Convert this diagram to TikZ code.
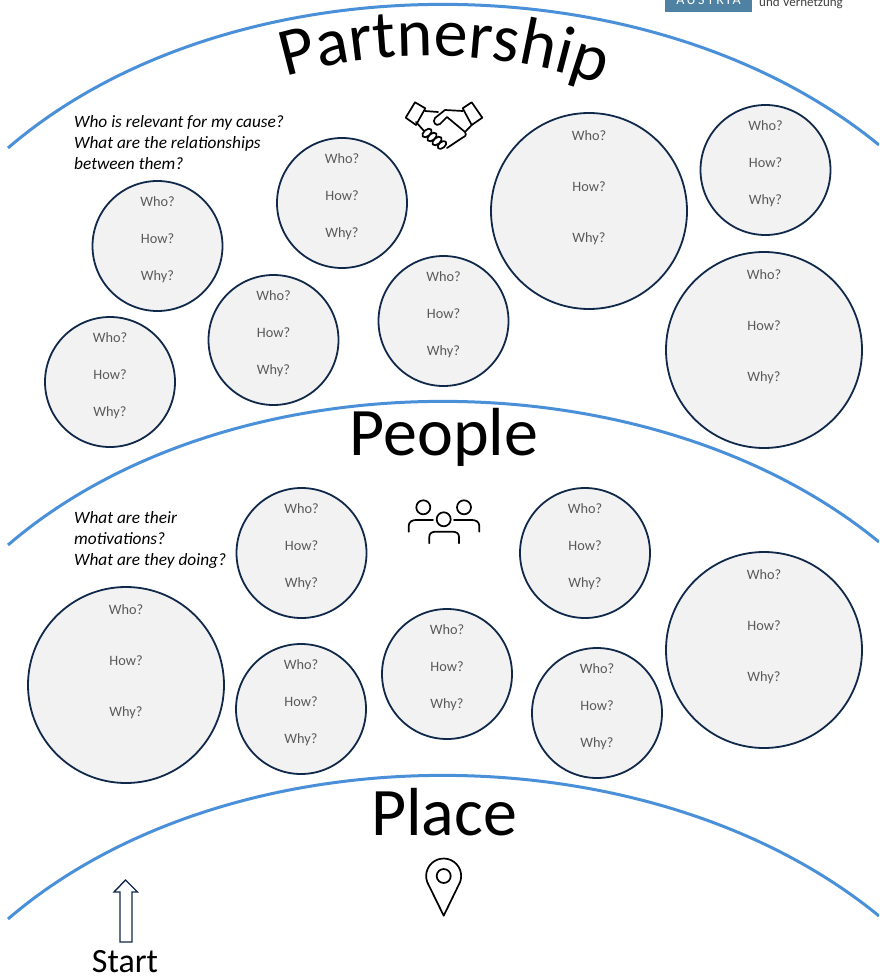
\documentclass[tikz,border=0pt]{standalone}
\usepackage{fontspec}
\setmainfont{Carlito}
\usetikzlibrary{decorations.text}

\definecolor{archblue}{HTML}{4A90D9}
\definecolor{ringnavy}{HTML}{10294A}
\definecolor{bubblegray}{HTML}{F2F2F2}
\definecolor{askgray}{HTML}{595959}
\definecolor{logoblue}{HTML}{4F81A3}

\tikzset{
  archline/.style={draw=archblue, line width=3pt},
  asks/.style={text=askgray, inner sep=0pt, align=center},
  bubble/.style={circle, draw=ringnavy, line width=1.8pt, fill=bubblegray, inner sep=0pt, minimum size=130pt, label={[asks, yshift=6pt, font=\fontsize{14.3}{37}\selectfont]center:{Who?\\How?\\Why?}}},
  bigbubble/.style={circle, draw=ringnavy, line width=1.8pt, fill=bubblegray, inner sep=0pt, minimum size=196pt, label={[asks, yshift=23pt, font=\fontsize{14.3}{51}\selectfont]center:{Who?\\How?\\Why?}}},
  question/.style={anchor=north west, inner sep=0pt, align=left, font=\fontsize{17.3}{21}\selectfont\itshape},
  title/.style={inner sep=0pt, font=\fontsize{68}{68}\selectfont},
  icon/.style={line width=1.7pt, line cap=round, line join=round},
}

\begin{document}
\begin{tikzpicture}[x=1pt,y=-1pt]

\clip (0,0) rectangle (879,976);

% Logo in the corner
\node [fill=logoblue, text=white, inner sep=0pt, minimum width=87pt, minimum height=24pt, font=\fontsize{14}{14}\selectfont\addfontfeature{LetterSpace=18}] (austria) at (708.5,0) {AUSTRIA};
\node [anchor=base west, inner sep=0pt, text=black!75, font=\fontsize{13}{13}\selectfont] (vernetzung) at (759,7) {und Vernetzung};

% Draw the three arches
\draw [archline] (8,148) .. controls (230,-43) and (650,-43) .. (879,145);
\draw [archline] (8,545) .. controls (230,354) and (650,354) .. (879,542);
\draw [archline] (8,919) .. controls (230,728) and (650,728) .. (879,916);

% Titles
\path [decorate, decoration={text along path, text align=center, text={|\fontsize{68}{68}\selectfont|Partnership}}] (268,82) .. controls (370,46) and (510,46) .. (618,92);
\node [title] (people) at (444,437) {People};
\node [title] (place) at (444,812) {Place};
\node [inner sep=0pt, font=\fontsize{34}{34}\selectfont] (start) at (125,962) {Start};

% Questions
\node [question] (askpartner) at (74,115) {Who is relevant for my cause?\\What are the relationships\\between them?};
\node [question] (askpeople) at (74,511) {What are their\\motivations?\\What are they doing?};

% Partnership circles
\node [bubble] (partner1) at (157.5,246) {};
\node [bubble] (partner2) at (342,203) {};
\node [bigbubble] (partner3) at (589,211) {};
\node [bubble] (partner4) at (765.5,170) {};
\node [bubble] (partner5) at (273.5,340) {};
\node [bubble] (partner6) at (443.5,321) {};
\node [bubble] (partner7) at (110,382) {};
\node [bigbubble] (partner8) at (764,350) {};

% People circles
\node [bubble] (crowd1) at (301.5,553) {};
\node [bubble] (crowd2) at (585,553) {};
\node [bigbubble] (crowd3) at (126,685) {};
\node [bubble] (crowd4) at (301,709) {};
\node [bubble] (crowd5) at (447,674) {};
\node [bubble] (crowd6) at (597,713) {};
\node [bigbubble] (crowd7) at (764,650) {};

% Handshake icon
\draw [icon] (415,102.3) -- (425.3,108.3) -- (416,125) -- (405.7,117.7) -- cycle;
\draw [icon] (471.7,102.3) -- (482.3,117.7) -- (471.7,125) -- (462.7,108.3) -- cycle;
\draw [icon] (425,111) -- (438,112);
\draw [icon] (462.7,111) -- (445,110) -- (435,118) .. controls (432,122) and (436,127) .. (440,124) -- (447,117) -- (465,132) .. controls (467,136) and (465,136) .. (462,138) -- (447,148);
\draw [icon] (416,122) -- (424,131);
\draw [icon] (471.7,125) -- (465,132);
\draw [icon, rotate around={40:(427,133)}] (427,133) ellipse (5.5 and 3.2);
\draw [icon, rotate around={40:(432,137)}] (432,137) ellipse (5.5 and 3.2);
\draw [icon, rotate around={40:(437,141)}] (437,141) ellipse (5.5 and 3.2);
\draw [icon, rotate around={40:(442,145)}] (442,145) ellipse (5 and 3);

% People icon
\draw [icon] (423.3,507.3) circle (7);
\draw [icon] (464,507.3) circle (7);
\draw [icon] (443.7,519.3) circle (7);
\draw [icon] (408.7,531.7) -- (408.7,526) .. controls (408.7,522) and (412,520) .. (416,520) -- (433,520);
\draw [icon] (479.3,531.7) -- (479.3,526) .. controls (479.3,522) and (476,520) .. (472,520) -- (454,520);
\draw [icon] (429.3,543.3) -- (429.3,537) .. controls (429.3,533) and (432,531.7) .. (436,531.7) -- (452,531.7) .. controls (456,531.7) and (459,533) .. (459,537) -- (459,543.3);

% Pin icon
\draw [icon] (443.7,915.7) -- (427.2,882) arc (160:380:17.5) -- cycle;
\draw [icon] (443.7,876) circle (7);

% Start arrow
\draw [draw=ringnavy, line width=1.4pt, fill=white] (125.5,880) -- (137.5,892) -- (132,892) -- (132,942) -- (120,942) -- (120,892) -- (114,892) -- cycle;

\end{tikzpicture}
\end{document}
